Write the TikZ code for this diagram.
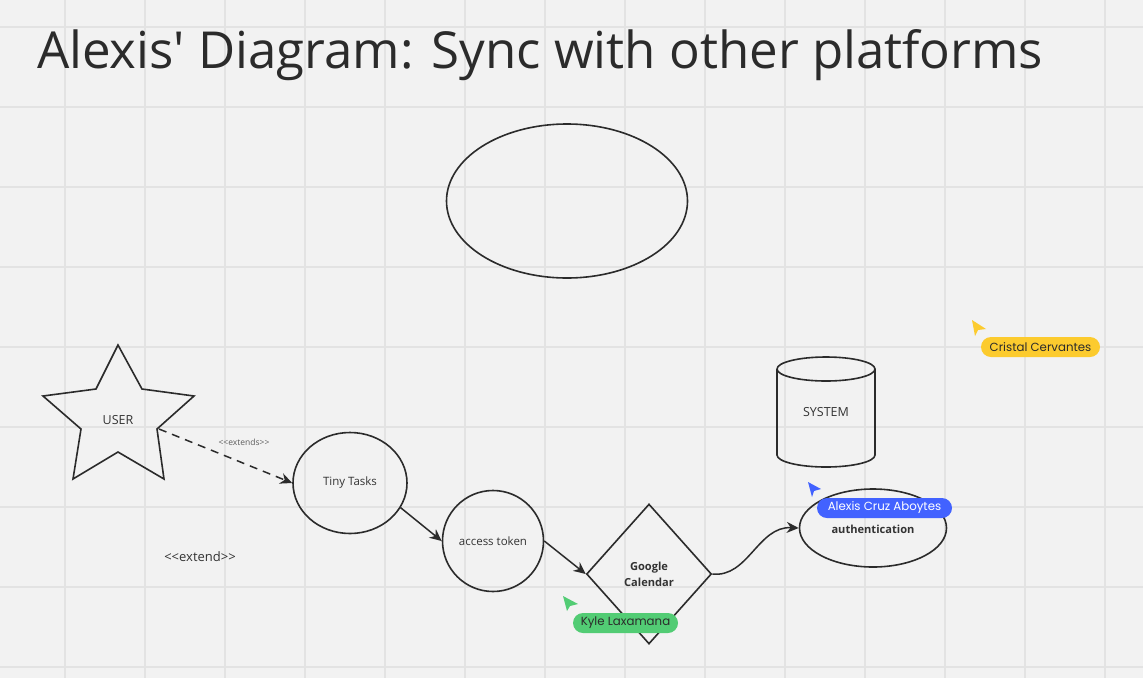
\documentclass[tikz,border=0pt]{standalone}
\usepackage{fontspec}
\setmainfont{Open Sans}[Ligatures=TeXOff]
\newfontfamily\pillfont{Poppins}[Ligatures=TeXOff]
\usetikzlibrary{shapes.geometric,arrows.meta}
\definecolor{bg}{HTML}{F2F2F2}
\definecolor{gridc}{HTML}{E3E3E3}
\definecolor{ink}{HTML}{2B2B2B}
\definecolor{txt}{HTML}{333333}
\definecolor{pillyellow}{HTML}{FCCB2E}
\definecolor{pillblue}{HTML}{4262FF}
\definecolor{pillgreen}{HTML}{52CC74}
\tikzset{
  shapeline/.style={draw=ink, line width=1.6pt},
  lbl/.style={text=txt, font=\fontsize{11.5}{14}\selectfont, inner sep=0pt},
  biglbl/.style={text=txt, font=\fontsize{12.5}{15}\selectfont, inner sep=0pt},
  boldlbl/.style={text=txt, font=\bfseries\fontsize{11.1}{16}\selectfont, inner sep=0pt, align=center},
  arr/.style={draw=ink, line width=1.5pt, -{Stealth[length=12pt,width=11pt]}},
  pill/.style={rounded corners=10pt, minimum height=20pt, inner sep=0pt, font=\pillfont\fontsize{11.8}{14}\selectfont},
  cursor/.style={line width=0pt},
}
\begin{document}
\begin{tikzpicture}[x=1pt,y=-1pt]
\useasboundingbox (0,0) rectangle (1143,678);
\fill[bg] (0,0) rectangle (1143,678);
% grid
\foreach \gx in {65,145,...,1105} \draw[gridc, line width=1.2pt] (\gx,0) -- (\gx,678);
\foreach \gy in {27,107,...,667} \draw[gridc, line width=1.2pt] (0,\gy) -- (1143,\gy);

% title
\node[anchor=base west, inner sep=0pt, text=ink, font=\fontsize{51}{60}\selectfont] (title) at (37,68) {Alexis' Diagram: Sync with other platforms};

% top ellipse
\node[shapeline, ellipse, minimum width=241pt, minimum height=154pt, inner sep=0pt] (topell) at (567,201) {};

% star
\draw[shapeline, line join=miter] (118,345) -- (142,389) -- (194,396) -- (157,429) -- (164,479) -- (118,452) -- (73,479) -- (81,429) -- (43,396) -- (96,389) -- cycle;
\node[biglbl] (user) at (118,420) {USER};
\coordinate (starR) at (159,429);

% Tiny Tasks
\node[shapeline, ellipse, minimum width=114pt, minimum height=101pt, inner sep=0pt, lbl] (tiny) at (350,483) {Tiny Tasks};
% access token
\node[shapeline, circle, minimum size=101pt, inner sep=0pt, lbl] (acc) at (493,541) {access token};
% diamond
\node[shapeline, diamond, minimum width=125pt, minimum height=140pt, inner sep=0pt, boldlbl] (dia) at (649,574) {Google\\Calendar};
% authentication
\node[shapeline, ellipse, minimum width=147pt, minimum height=78pt, inner sep=0pt] (auth) at (873,528) {};
\node[boldlbl] (authtxt) at (873,529) {authentication};

% cylinder
\draw[shapeline] (777,369) arc[start angle=180, end angle=540, x radius=49pt, y radius=12pt];
\draw[shapeline] (777,369) -- (777,455) arc[start angle=180, end angle=360, x radius=49pt, y radius=12pt] -- (875,369);
\node[biglbl] (system) at (826,412) {SYSTEM};

% connectors
\draw[arr, dash pattern=on 8pt off 6pt] (starR) -- (tiny.west);
\node[inner sep=0pt, text=txt!80, font=\fontsize{8.5}{10}\selectfont] (extends) at (244,442) {<<extends>>};
\draw[arr] (tiny.-26) -- (acc.west);
\draw[arr] (acc.east) -- (dia.west);
\draw[arr] (dia.east) .. controls (748,578) and (758,526) .. (auth.west);

% extend label
\node[inner sep=0pt, text=txt, font=\fontsize{13}{15}\selectfont] (extend) at (200,557) {<<extend>>};

% cursors and name pills
\fill[pillyellow, cursor] (972,320) -- (986,329) -- (978,330) -- (975,336) -- cycle;
\node[pill, fill=pillyellow, text=ink, minimum width=119pt] (cristal) at (1040.5,347) {Cristal Cervantes};

\fill[pillblue, cursor] (808,482) -- (821,489) -- (814,491) -- (812,497) -- cycle;
\node[pill, fill=pillblue, text=white, minimum width=135pt] (alexis) at (884.5,508) {Alexis Cruz Aboytes};

\fill[pillgreen, cursor] (563,596) -- (578,604) -- (570,606) -- (567,611) -- cycle;
\node[pill, fill=pillgreen, text=ink, minimum width=105pt] (kyle) at (625.5,623) {Kyle Laxamana};
\end{tikzpicture}
\end{document}
